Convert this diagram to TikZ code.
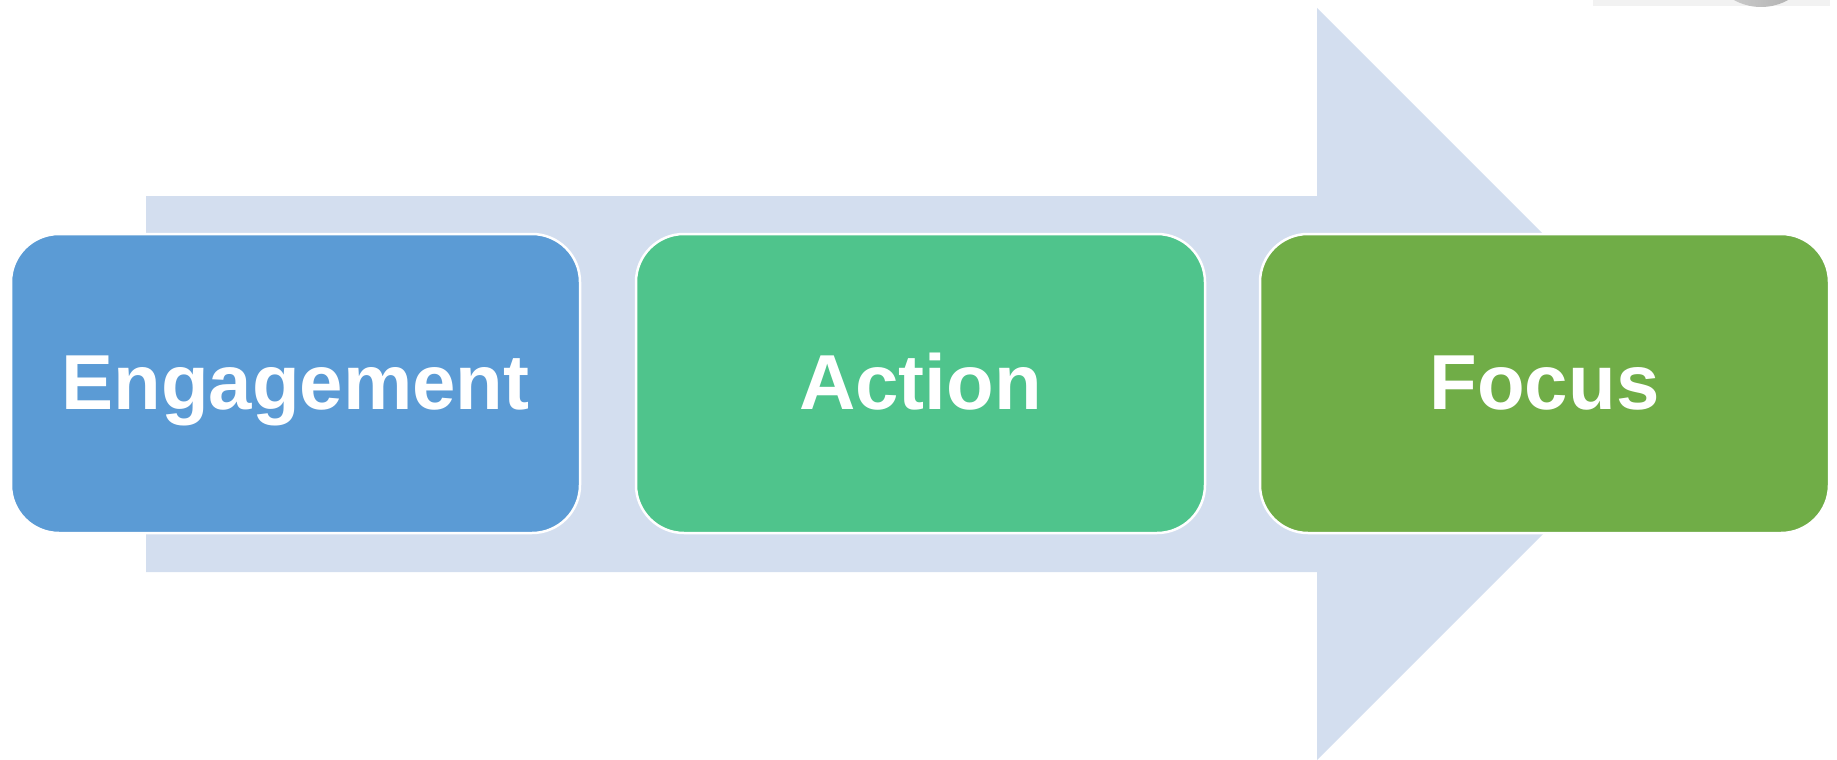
\documentclass[tikz,border=0pt]{standalone}
\usepackage{fontspec}
\setmainfont{Liberation Sans}
\usetikzlibrary{shadings}
\definecolor{arrowfill}{HTML}{D3DEEF}
\definecolor{boxblue}{HTML}{5B9BD5}
\definecolor{boxteal}{HTML}{4FC48C}
\definecolor{boxgreen}{HTML}{70AD47}
\tikzset{
  stagebox/.style={draw=white, line width=2.5pt, rounded corners=48pt,
    minimum width=569pt, minimum height=299pt},
  stagetext/.style={text=white, inner sep=0pt, anchor=base,
    font=\fontsize{78}{90}\selectfont\bfseries},
}
\begin{document}
\begin{tikzpicture}[x=1pt,y=-1pt]
\useasboundingbox (0,0) rectangle (1837,760);
\begin{scope}
\clip (0,0) rectangle (1837,760);
% faint shadow band and grey ellipse at top right
\fill[gray!10] (1593,0) rectangle (1830,6);
\shade[left color=gray!35, right color=gray!70, middle color=gray!50]
  (1761,-55) ellipse [x radius=59pt, y radius=62pt];
% big background arrow
\fill[arrowfill] (146,196) -- (1317,196) -- (1317,8) -- (1693,384)
  -- (1317,760) -- (1317,572) -- (146,572) -- cycle;
\end{scope}
\node[stagebox, fill=boxblue]  (engagement) at (295.5,383.5) {};
\node[stagebox, fill=boxteal]  (action)     at (920.5,383.5) {};
\node[stagebox, fill=boxgreen] (focus)      at (1544.5,383.5) {};
\node[stagetext] (t1) at (295.5,409) {Engagement};
\node[stagetext] (t2) at (920.5,409) {Action};
\node[stagetext] (t3) at (1544.5,409) {Focus};
\end{tikzpicture}
\end{document}
